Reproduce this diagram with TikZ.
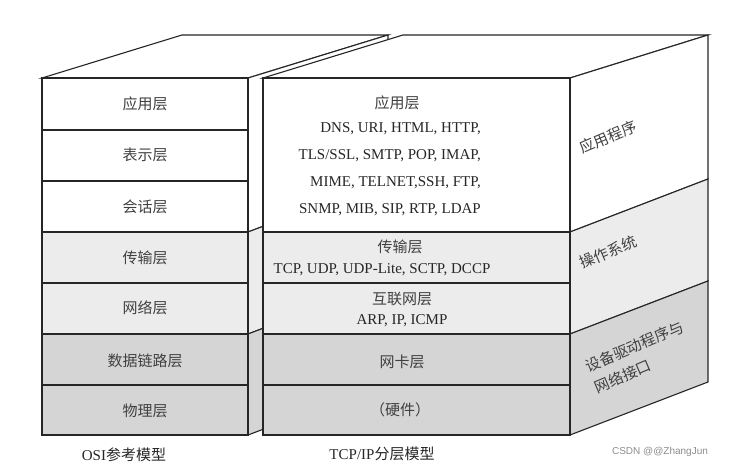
\documentclass[tikz,border=0pt]{standalone}
\usepackage{fontspec}
\setmainfont{Liberation Serif}
\newfontfamily\cjk{Noto Sans CJK SC}
\newfontfamily\wmfont{Liberation Sans}
\colorlet{lgray}{gray!15}
\colorlet{dgray}{gray!33}
\tikzset{
  face/.style={draw=black!85, line width=1.1pt, line join=miter},
  cn/.style={font=\cjk\fontsize{15}{18}\selectfont, text=black!75, inner sep=0pt},
  en/.style={font=\fontsize{15}{18}\selectfont, text=black!85, inner sep=0pt},
  side/.style={font=\cjk\fontsize{15}{23}\selectfont, text=black!75, inner sep=0pt, rotate=23},
}
\begin{document}
\begin{tikzpicture}[x=1pt,y=-1pt]
\useasboundingbox[fill=white] (0,0) rectangle (731,470);

% ---------- OSI box ----------
\draw[face, fill=white] (42,78) -- (182,35) -- (388,35) -- (248,78) -- cycle;
\draw[face, fill=white] (248,78) -- (388,35) -- (388,179) -- (248,232) -- cycle;
\draw[face, fill=lgray] (248,232) -- (388,179) -- (388,281) -- (248,334) -- cycle;
\draw[face, fill=dgray] (248,334) -- (388,281) -- (388,382) -- (248,435) -- cycle;
\draw[face, fill=white] (42,78) rectangle (248,130);
\draw[face, fill=white] (42,130) rectangle (248,181);
\draw[face, fill=white] (42,181) rectangle (248,232);
\draw[face, fill=lgray] (42,232) rectangle (248,283);
\draw[face, fill=lgray] (42,283) rectangle (248,334);
\draw[face, fill=dgray] (42,334) rectangle (248,385);
\draw[face, fill=dgray] (42,385) rectangle (248,435);

\node[cn] (o7) at (145,104) {应用层};
\node[cn] (o6) at (145,155) {表示层};
\node[cn] (o5) at (145,207) {会话层};
\node[cn] (o4) at (145,258) {传输层};
\node[cn] (o3) at (145,308) {网络层};
\node[cn] (o2) at (145,361) {数据链路层};
\node[cn] (o1) at (145,411) {物理层};
\node[inner sep=0pt, text=black!85] (osi) at (124,455) {\fontsize{15}{18}\selectfont OSI{\cjk 参考模型}};

% ---------- TCP/IP box ----------
\draw[face, fill=white] (263,78) -- (403,35) -- (708,35) -- (570,78) -- cycle;
\draw[face, fill=white] (570,78) -- (708,35) -- (708,179) -- (570,232) -- cycle;
\draw[face, fill=lgray] (570,232) -- (708,179) -- (708,281) -- (570,334) -- cycle;
\draw[face, fill=dgray] (570,334) -- (708,281) -- (708,382) -- (570,435) -- cycle;
\draw[face, fill=white] (263,78) rectangle (570,232);
\draw[face, fill=lgray] (263,232) rectangle (570,283);
\draw[face, fill=lgray] (263,283) rectangle (570,334);
\draw[face, fill=dgray] (263,334) rectangle (570,385);
\draw[face, fill=dgray] (263,385) rectangle (570,435);

\node[cn] (t4) at (397,103) {应用层};
\node[en, anchor=east] (a1) at (481,129) {DNS, URI, HTML, HTTP,};
\node[en, anchor=east] (a2) at (481,156) {TLS/SSL, SMTP, POP, IMAP,};
\node[en, anchor=east] (a3) at (481,183) {MIME, TELNET,SSH, FTP,};
\node[en, anchor=east] (a4) at (481,210) {SNMP, MIB, SIP, RTP, LDAP};
\node[cn] (t3) at (400,247) {传输层};
\node[en] (tp) at (382,270) {TCP, UDP, UDP-Lite, SCTP, DCCP};
\node[cn] (t2) at (402,299) {互联网层};
\node[en] (ip) at (402,321) {ARP, IP, ICMP};
\node[cn] (t1) at (402,362) {网卡层};
\node[cn] (hw) at (400,410) {（硬件）};
\node[inner sep=0pt, text=black!85] (tcpip) at (382,454) {\fontsize{15}{18}\selectfont TCP/IP{\cjk 分层模型}};

\node[side] (app) at (608,137) {应用程序};
\node[side] (os) at (608,252) {操作系统};
\node[side, align=left] (drv) at (639,357) {设备驱动程序与\\网络接口};

\node[font=\wmfont\fontsize{10}{12}\selectfont, text=black!45, inner sep=0pt] (wm) at (660,452) {CSDN @@ZhangJun};
\end{tikzpicture}
\end{document}
